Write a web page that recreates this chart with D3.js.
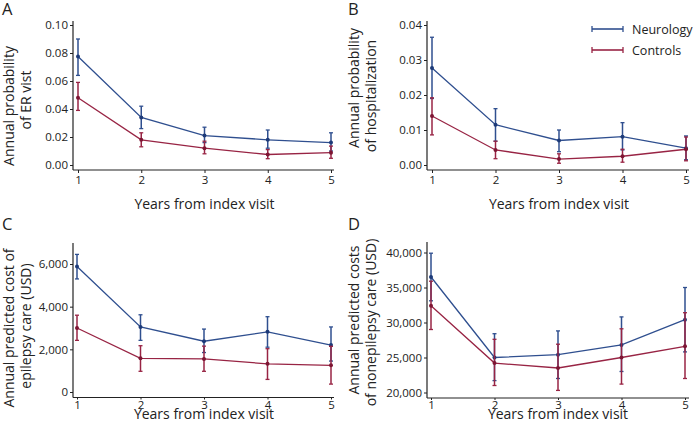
<!DOCTYPE html>
<html><head><meta charset="utf-8">
<script src="https://cdn.jsdelivr.net/npm/d3@7"></script>
<style>
body{margin:0;background:#fff;}
svg{display:block;font-family:"Open Sans",sans-serif;}
</style></head>
<body><svg id="c" width="695" height="429"></svg>
<script>
const years = [1,2,3,4,5];
// Panel A: ER visit probability
const erNeuro = [0.0775,0.034,0.021,0.018,0.016];
const erNeuroLo = [0.064,0.026,0.016,0.012,0.010];
const erNeuroHi = [0.090,0.042,0.027,0.025,0.023];
const erCtrl = [0.048,0.018,0.012,0.0075,0.0088];
const erCtrlLo = [0.039,0.013,0.008,0.0045,0.0048];
const erCtrlHi = [0.059,0.023,0.017,0.011,0.0135];
// Panel B: hospitalization probability
const hospNeuro = [0.0277,0.0115,0.007,0.0081,0.0048];
const hospNeuroLo = [0.019,0.0068,0.0038,0.0043,0.0015];
const hospNeuroHi = [0.0365,0.0161,0.0100,0.0121,0.0083];
const hospCtrl = [0.014,0.0043,0.0017,0.0025,0.0045];
const hospCtrlLo = [0.0086,0.0018,0.0005,0.0008,0.0012];
const hospCtrlHi = [0.0192,0.0068,0.0032,0.0045,0.0080];
// Panel C: epilepsy care cost
const epiNeuro = [5880,3050,2380,2820,2200];
const epiNeuroLo = [5300,2420,1850,2100,1450];
const epiNeuroHi = [6450,3620,2950,3530,3050];
const epiCtrl = [3000,1580,1550,1320,1250];
const epiCtrlLo = [2420,970,970,590,370];
const epiCtrlHi = [3600,2170,2150,2030,2140];
// Panel D: nonepilepsy care cost
const nonNeuro = [36500,25000,25400,26800,30400];
const nonNeuroLo = [33100,21700,22000,23000,25800];
const nonNeuroHi = [39900,28400,28800,30800,35000];
const nonCtrl = [32400,24200,23500,25000,26600];
const nonCtrlLo = [29000,21000,20300,21200,22000];
const nonCtrlHi = [35900,27600,26900,29100,31400];

const ticksA = [0,0.02,0.04,0.06,0.08,0.10];
const ticksB = [0,0.01,0.02,0.03,0.04];
const ticksC = [0,2000,4000,6000];
const ticksD = [20000,25000,30000,35000,40000];
const seriesNames = ["Neurology","Controls"];
const xTitle = "Years from index visit";

const BLUE = "#2f4f8f", RED = "#982444";
const BLUE_DOT = "#1d3a78", RED_DOT = "#7d1533";

const svg = d3.select("#c");

const panels = [
  {letter:"A", lx:2, ly:15, ax:73, ay:170, top:21, right:334, x0:78, x1:331, yd:[0,0.1], yr:[165,25], ticks:ticksA, fmt:d3.format(".2f"),
   xts:3, xtp:3,
   title:["Annual probability","of ER vist"], tx:[13.5,30.5], ty:[106,100], xty:209,
   s:[[erNeuro,erNeuroLo,erNeuroHi],[erCtrl,erCtrlLo,erCtrlHi]]},
  {letter:"B", lx:348, ly:15, ax:427, ay:170, top:21, right:689, x0:432, x1:686, yd:[0,0.04], yr:[165,25], ticks:ticksB, fmt:d3.format(".2f"),
   xts:3, xtp:3,
   title:["Annual probability","of hospitalization"], tx:[358.5,375.5], ty:[88,96], xty:209,
   s:[[hospNeuro,hospNeuroLo,hospNeuroHi],[hospCtrl,hospCtrlLo,hospCtrlHi]]},
  {letter:"C", lx:2, ly:230, ax:73, ay:397.5, top:243, right:334, x0:77, x1:331, yd:[0,6000], yr:[392,264], ticks:ticksC, fmt:d3.format(","),
   xts:2, xtp:1,
   title:["Annual predicted cost of","epilepsy care (USD)"], tx:[13.5,30.5], ty:[328,326], xty:419,
   s:[[epiNeuro,epiNeuroLo,epiNeuroHi],[epiCtrl,epiCtrlLo,epiCtrlHi]]},
  {letter:"D", lx:348, ly:230, ax:427, ay:398, top:242, right:689, x0:431, x1:685, yd:[20000,40000], yr:[392.5,252.5], ticks:ticksD, fmt:d3.format(","),
   xts:2, xtp:1,
   title:["Annual predicted costs","of nonepilepsy care (USD)"], tx:[358.5,375.5], ty:[320,322.5], xty:419,
   s:[[nonNeuro,nonNeuroLo,nonNeuroHi],[nonCtrl,nonCtrlLo,nonCtrlHi]]}
];

const lineCols = [BLUE, RED], dotCols = [BLUE_DOT, RED_DOT];

panels.forEach(p => {
  const x = d3.scaleLinear().domain([1,5]).range([p.x0,p.x1]);
  const y = d3.scaleLinear().domain(p.yd).range(p.yr);
  const g = svg.append("g");

  // letter
  g.append("text").attr("x",p.lx).attr("y",p.ly).attr("font-size",16.5).attr("fill","#222").text(p.letter);

  // y axis
  const ya = g.append("g").attr("transform",`translate(${p.ax},0)`)
    .call(d3.axisLeft(y).tickValues(p.ticks).tickFormat(p.fmt).tickSize(3).tickPadding(2));
  ya.select(".domain").remove();
  ya.selectAll("text").attr("font-size",11.5).attr("fill","#222").attr("font-family","Open Sans, sans-serif");
  ya.selectAll("line").attr("stroke","#222");
  g.append("line").attr("x1",p.ax).attr("x2",p.ax).attr("y1",p.top).attr("y2",p.ay).attr("stroke","#222").attr("stroke-width",1.2);

  // x axis
  const xa = g.append("g").attr("transform",`translate(0,${p.ay})`)
    .call(d3.axisBottom(x).tickValues(years).tickFormat(d3.format("d")).tickSize(p.xts).tickPadding(p.xtp));
  xa.select(".domain").remove();
  xa.selectAll("text").attr("font-size",11.5).attr("fill","#222").attr("font-family","Open Sans, sans-serif");
  xa.selectAll("line").attr("stroke","#222");
  g.append("line").attr("x1",p.ax).attr("x2",p.right).attr("y1",p.ay).attr("y2",p.ay).attr("stroke","#222").attr("stroke-width",1.2);

  // titles
  g.append("text").attr("x",(p.x0+p.x1)/2).attr("y",p.xty).attr("text-anchor","middle")
    .attr("font-size",14).attr("fill","#222").text(xTitle);
  p.title.forEach((t,i) => {
    g.append("text").attr("transform",`translate(${p.tx[i]},${p.ty[i]}) rotate(-90)`)
      .attr("text-anchor","middle").attr("font-size",14).attr("fill","#222").text(t);
  });

  p.s.forEach((ser,k) => {
    const [v,lo,hi] = ser;
    const sg = g.append("g");
    sg.append("path").datum(years).attr("fill","none").attr("stroke",lineCols[k]).attr("stroke-width",1.3)
      .attr("d", d3.line().x(d=>x(d)).y((d,i)=>y(v[i])));
    years.forEach((yr,i) => {
      sg.append("line").attr("x1",x(yr)).attr("x2",x(yr)).attr("y1",y(lo[i])).attr("y2",y(hi[i]))
        .attr("stroke",lineCols[k]).attr("stroke-width",1.5);
      [lo[i],hi[i]].forEach(e => sg.append("line").attr("x1",x(yr)-2).attr("x2",x(yr)+2).attr("y1",y(e)).attr("y2",y(e))
        .attr("stroke",lineCols[k]).attr("stroke-width",1.3));
      sg.append("circle").attr("cx",x(yr)).attr("cy",y(v[i])).attr("r",2).attr("fill",dotCols[k]);
    });
  });
});

// legend
const leg = svg.append("g");
seriesNames.forEach((n,k) => {
  const ly = 29 + k*21;
  leg.append("line").attr("x1",592).attr("x2",623).attr("y1",ly).attr("y2",ly).attr("stroke",lineCols[k]).attr("stroke-width",1.6);
  [592,623].forEach(xx => leg.append("line").attr("x1",xx).attr("x2",xx).attr("y1",ly-3).attr("y2",ly+3).attr("stroke",lineCols[k]).attr("stroke-width",1.3));
  leg.append("text").attr("x",632).attr("y",ly+4.5).attr("font-size",12.5).attr("fill","#222").text(n);
});
</script></body></html>
